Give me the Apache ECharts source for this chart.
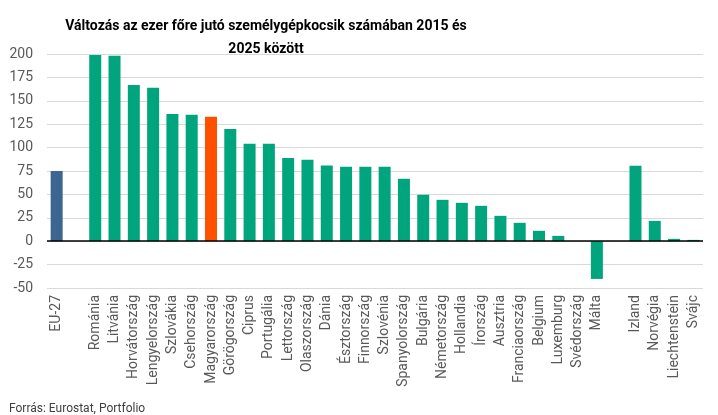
<!DOCTYPE html>
<html><head><meta charset="utf-8">
<script src="https://cdn.jsdelivr.net/npm/echarts@6/dist/echarts.min.js"></script>
<style>html,body{margin:0;padding:0;background:#fff}#c{width:718px;height:415px}</style>
</head><body><div id="c"></div>
<script>
const categories = ['EU-27','','Románia','Litvánia','Horvátország','Lengyelország','Szlovákia','Csehország','Magyarország','Görögország','Ciprus','Portugália','Lettország','Olaszország','Dánia','Észtország','Finnország','Szlovénia','Spanyolország','Bulgária','Németország','Hollandia','Írország','Ausztria','Franciaország','Belgium','Luxemburg','Svédország','Málta','','Izland','Norvégia','Liechtenstein','Svájc'];
const values = [75,null,199,198,167,164,136,135,133,120,104,104,89,87,81,79.5,79.5,79.5,66.7,49.6,44.2,41,37.8,27.1,19.6,11.1,5.7,0,-40.3,null,80.6,21.7,2.5,1.4];
const yTicks = {min:-50, max:200, interval:25};
const titleText = 'Változás az ezer főre jutó személygépkocsik számában 2015 és\n2025 között';
const sourceText = 'Forrás: Eurostat, Portfolio';
const colorFor = c => c==='EU-27' ? '#3d6591' : (c==='Magyarország' ? '#ff5000' : '#00a57e');

const chart = echarts.init(document.getElementById('c'));
chart.setOption({
  animation:false,
  textStyle:{fontFamily:'Roboto'},
  title:[{
    text:titleText, left:261, top:10, textAlign:'center',
    textStyle:{fontFamily:'Roboto',fontWeight:'bold',fontSize:14,color:'#000',lineHeight:23}
  },{
    text:sourceText, left:4, top:398,
    textStyle:{fontFamily:'Roboto',fontWeight:'normal',fontSize:12,color:'#404040'}
  }],
  grid:{left:47,right:15,top:54,bottom:127,containLabel:false},
  xAxis:{
    type:'category', data:categories,
    axisLine:{show:false}, axisTick:{show:false},
    axisLabel:{interval:0, rotate:90, color:'#595959', fontSize:14, margin:7}
  },
  yAxis:{
    type:'value', min:yTicks.min, max:yTicks.max, interval:yTicks.interval,
    axisLine:{show:false}, axisTick:{show:false},
    axisLabel:{color:'#595959', fontSize:14, margin:14},
    splitLine:{lineStyle:{color:'#d9d9d9',width:1}}
  },
  series:[{
    type:'bar', barWidth:12,
    data:values.map((v,i)=>({value:v,itemStyle:{color:colorFor(categories[i])}})),
    markLine:{silent:true,symbol:'none',label:{show:false},
      lineStyle:{color:'#000',width:1.5,type:'solid'},data:[{yAxis:0}]}
  }]
});
</script></body></html>
